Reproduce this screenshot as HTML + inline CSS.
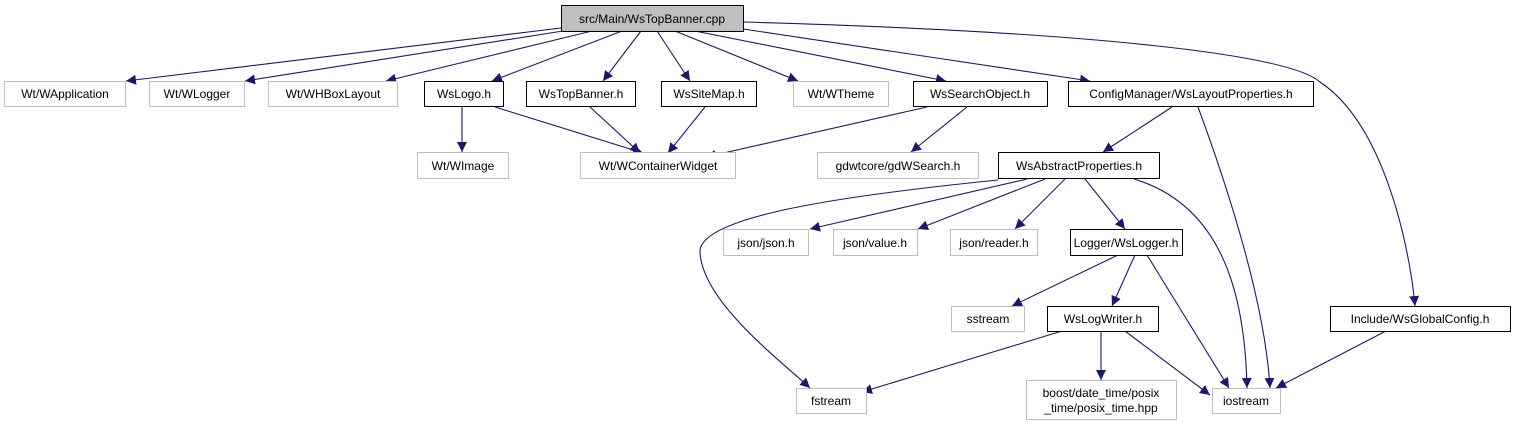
<!DOCTYPE html>
<html><head><meta charset="utf-8"><style>
html,body{margin:0;padding:0;background:#fff;}
svg{display:block;}
text{font-family:"Liberation Sans",sans-serif;font-size:12px;fill:#000;}
</style></head><body>
<svg width="1513" height="427" viewBox="0 0 1513 427" xmlns="http://www.w3.org/2000/svg">
<defs>
<marker id="a" viewBox="0 0 10 10" refX="10" refY="5" markerWidth="10" markerHeight="10" markerUnits="userSpaceOnUse" orient="auto">
<path d="M0,0 L10,5 L0,10 z" fill="#191970"/>
</marker>
</defs>
<g fill="none" stroke="#191970" stroke-width="1.1" marker-end="url(#a)">
<path d="M561,28 L126,81"/>
<path d="M563,31 L245,81"/>
<path d="M592,31 L386,81"/>
<path d="M622,31 L492,81"/>
<path d="M641,31 L603,81"/>
<path d="M657,31 L690,81"/>
<path d="M675,31 L798,81"/>
<path d="M695,31 L946,81"/>
<path d="M743,29 L1090,81"/>
<path d="M743,22 C1100,32 1290,55 1320,82 C1385,125 1410,250 1415,306"/>
<path d="M462,107 L462,152"/>
<path d="M495,107 L643,153"/>
<path d="M590,107 L640,153"/>
<path d="M705,107 L668,153"/>
<path d="M927,107 L706,157"/>
<path d="M967,107 L911,152"/>
<path d="M1172,107 L1103,152"/>
<path d="M1198,107 C1225,180 1265,300 1270,388"/>
<path d="M998,180 C850,195 705,215 700,250 C700,300 780,360 810,388"/>
<path d="M1027,179 L810,229"/>
<path d="M1045,179 L918,229"/>
<path d="M1065,179 L1015,229"/>
<path d="M1085,179 L1125,229"/>
<path d="M1134,179 C1220,205 1245,290 1247,388"/>
<path d="M1118,255 L1012,306"/>
<path d="M1135,255 L1112,306"/>
<path d="M1147,255 L1229,388"/>
<path d="M1386,331 L1276,388"/>
<path d="M1062,331 L862,392"/>
<path d="M1101,331 L1101,380"/>
<path d="M1125,331 L1210,395"/>
</g>
<g stroke-width="1">
<rect x="561.5" y="5.5" width="182" height="26" fill="#bfbfbf" stroke="#000"/>
<rect x="4.5" y="81.5" width="121" height="25" fill="#fff" stroke="#bfbfbf"/>
<rect x="149.5" y="81.5" width="95" height="25" fill="#fff" stroke="#bfbfbf"/>
<rect x="268.5" y="81.5" width="129" height="25" fill="#fff" stroke="#bfbfbf"/>
<rect x="424.5" y="81.5" width="79" height="25" fill="#fff" stroke="#000"/>
<rect x="526.5" y="81.5" width="109" height="25" fill="#fff" stroke="#000"/>
<rect x="661.5" y="81.5" width="95" height="25" fill="#fff" stroke="#000"/>
<rect x="793.5" y="81.5" width="95" height="25" fill="#fff" stroke="#bfbfbf"/>
<rect x="913.5" y="81.5" width="134" height="25" fill="#fff" stroke="#000"/>
<rect x="1068.5" y="81.5" width="245" height="25" fill="#fff" stroke="#000"/>
<rect x="417.5" y="152.5" width="91" height="26" fill="#fff" stroke="#bfbfbf"/>
<rect x="580.5" y="152.5" width="155" height="26" fill="#fff" stroke="#bfbfbf"/>
<rect x="817.5" y="152.5" width="161" height="26" fill="#fff" stroke="#bfbfbf"/>
<rect x="998.5" y="152.5" width="161" height="26" fill="#fff" stroke="#000"/>
<rect x="723.5" y="229.5" width="85" height="26" fill="#fff" stroke="#bfbfbf"/>
<rect x="833.5" y="229.5" width="84" height="26" fill="#fff" stroke="#bfbfbf"/>
<rect x="950.5" y="229.5" width="87" height="26" fill="#fff" stroke="#bfbfbf"/>
<rect x="1070.5" y="229.5" width="112" height="26" fill="#fff" stroke="#000"/>
<rect x="951.5" y="306.5" width="73" height="25" fill="#fff" stroke="#bfbfbf"/>
<rect x="1047.5" y="306.5" width="111" height="25" fill="#fff" stroke="#000"/>
<rect x="1330.5" y="306.5" width="180" height="25" fill="#fff" stroke="#000"/>
<rect x="796.5" y="388.5" width="70" height="25" fill="#fff" stroke="#bfbfbf"/>
<rect x="1026.5" y="380.5" width="150" height="39" fill="#fff" stroke="#bfbfbf"/>
<rect x="1212.5" y="388.5" width="68" height="25" fill="#fff" stroke="#bfbfbf"/>
</g>
<g text-anchor="middle">
<text x="652" y="23">src/Main/WsTopBanner.cpp</text>
<text x="65" y="98">Wt/WApplication</text>
<text x="197" y="98">Wt/WLogger</text>
<text x="333" y="98">Wt/WHBoxLayout</text>
<text x="464" y="98">WsLogo.h</text>
<text x="581" y="98">WsTopBanner.h</text>
<text x="709" y="98">WsSiteMap.h</text>
<text x="841" y="98">Wt/WTheme</text>
<text x="980" y="98">WsSearchObject.h</text>
<text x="1191" y="98">ConfigManager/WsLayoutProperties.h</text>
<text x="463" y="170">Wt/WImage</text>
<text x="658" y="170">Wt/WContainerWidget</text>
<text x="898" y="170">gdwtcore/gdWSearch.h</text>
<text x="1079" y="170">WsAbstractProperties.h</text>
<text x="766" y="247">json/json.h</text>
<text x="875" y="247">json/value.h</text>
<text x="994" y="247">json/reader.h</text>
<text x="1126" y="247">Logger/WsLogger.h</text>
<text x="988" y="323">sstream</text>
<text x="1103" y="323">WsLogWriter.h</text>
<text x="1420" y="323">Include/WsGlobalConfig.h</text>
<text x="831" y="405">fstream</text>
<text x="1101" y="397">boost/date_time/posix</text>
<text x="1101" y="412">_time/posix_time.hpp</text>
<text x="1246" y="405">iostream</text>
</g>
</svg>
</body></html>
